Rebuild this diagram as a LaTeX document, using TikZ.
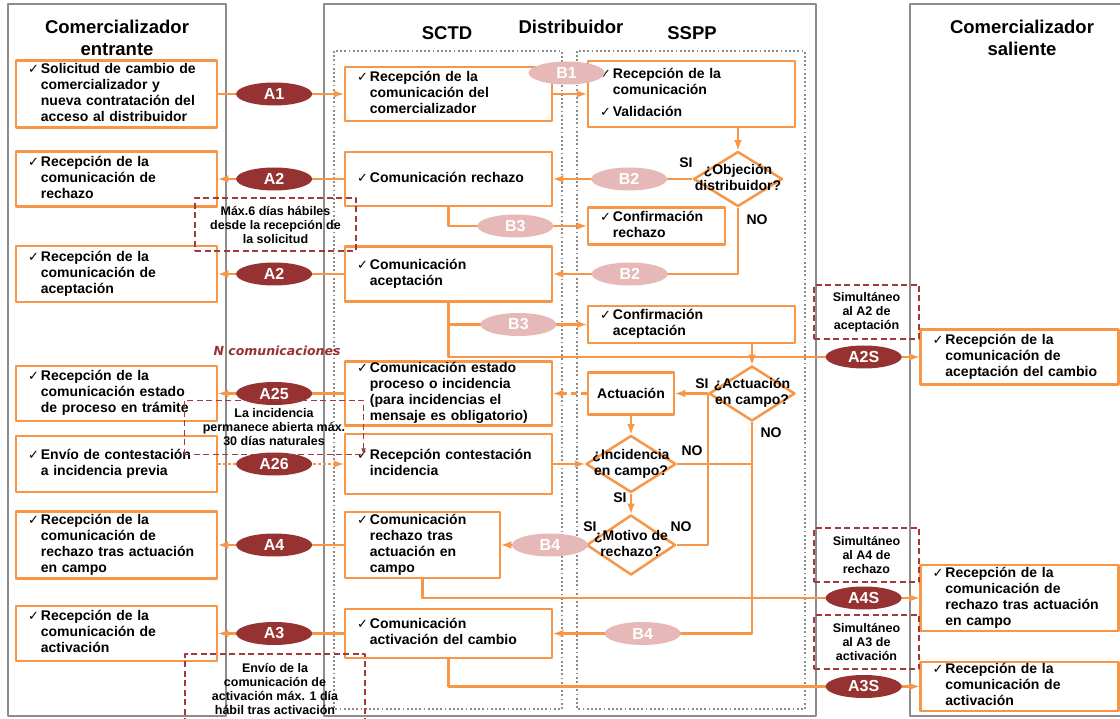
\documentclass[tikz,border=0pt]{standalone}
\usepackage{fontspec}
\setmainfont{Liberation Sans}
\newfontfamily\chkfont{DejaVu Sans}
\usetikzlibrary{shapes.geometric,positioning}
\definecolor{flowor}{HTML}{F79646}
\definecolor{ared}{HTML}{963232}
\definecolor{bpink}{HTML}{E6B8B7}
\definecolor{lanegray}{HTML}{8C8C8C}
\definecolor{notered}{HTML}{A03A3C}
\newcommand{\okmark}{{\chkfont\mdseries\fontsize{13}{13}\selectfont ✓}}
\newcommand{\chklist}[1]{\begin{tabular}{@{}l@{\hspace{2pt}}l@{}}\okmark & #1\end{tabular}}
\newcommand{\dtext}[1]{\makebox[0pt]{\smash{\raisebox{-3.5pt}{\begin{tabular}{@{}c@{}}#1\end{tabular}}}}}
\begin{document}
\begin{tikzpicture}[x=1pt, y=-1pt, >=latex, line join=round]
        \tikzstyle{lane} = [draw=lanegray, line width=2.6pt]
        \tikzstyle{frame} = [draw=lanegray, line width=1.8pt, dash pattern=on 1.8pt off 2.4pt]
        \tikzstyle{title} = [align=center, inner sep=0pt, font=\bfseries\fontsize{18.5}{22}\selectfont]
        \tikzstyle{block} = [draw=flowor, line width=2.5pt, fill=white, rectangle, inner xsep=12pt, inner ysep=0pt, align=left, font=\bfseries\fontsize{14}{16}\selectfont]
        \tikzstyle{lbox} = [block, text width=177pt]
        \tikzstyle{sbox} = [block, text width=183pt]
        \tikzstyle{rbox} = [block, text width=174pt]
        \tikzstyle{decision} = [diamond, draw=flowor, line width=2.5pt, fill=white, inner sep=0pt, font=\bfseries\fontsize{14}{16}\selectfont]
        \tikzstyle{flow} = [draw=flowor, line width=2.4pt]
        \tikzstyle{aev} = [ellipse, fill=ared, text=white, inner sep=0pt, minimum width=76pt, minimum height=23pt, pos=.445, font=\bfseries\fontsize{16}{16}\selectfont]
        \tikzstyle{bev} = [aev, fill=bpink]
        \tikzstyle{note} = [draw=notered, line width=1.1pt, dash pattern=on 6pt off 3.5pt, align=center, inner sep=0pt, font=\bfseries\fontsize{12.5}{14}\selectfont]
        \tikzstyle{notel} = [draw=notered, line width=1.1pt, dash pattern=on 6pt off 3.5pt]
        \tikzstyle{ans} = [inner sep=0pt, font=\bfseries\fontsize{14}{16}\selectfont]

        \useasboundingbox (0,0) rectangle (1120,719);

        \draw [lane] (8,4) rectangle (226,716);
        \draw [lane] (324,4) rectangle (816,716);
        \draw [lane] (1124,4) -- (910,4) -- (910,716) -- (1124,716);
        \draw [frame] (334,51) rectangle (562,709);
        \draw [frame] (577,51) rectangle (805,709);

        \node [title] (entr) at (117,38) {Comercializador\\entrante};
        \node [title] (sctd) at (447,33) {SCTD};
        \node [title] (dist) at (571,27) {Distribuidor};
        \node [title] (sspp) at (692,33) {SSPP};
        \node [title] (sal) at (1022,38) {Comercializador\\saliente};

        \node [lbox, minimum height=67pt] (l1) at (116.5,94) {\chklist{Solicitud de cambio de\\ & comercializador y\\ & nueva contratación del\\ & acceso al distribuidor}};
        \node [lbox, minimum height=55pt] (l2) at (116.5,179) {\chklist{Recepción de la\\ & comunicación de\\ & rechazo}};
        \node [lbox, minimum height=56pt] (l3) at (116.5,274) {\chklist{Recepción de la\\ & comunicación de\\ & aceptación}};
        \node [lbox, minimum height=55pt] (l4) at (116.5,393.5) {\chklist{Recepción de la\\ & comunicación estado\\ & de proceso en trámite}};
        \node [lbox, minimum height=56pt] (l5) at (116.5,464) {\chklist{Envío de contestación\\ & a incidencia previa}};
        \node [lbox, minimum height=67pt] (l6) at (116.5,545) {\chklist{Recepción de la\\ & comunicación de\\ & rechazo tras actuación\\ & en campo}};
        \node [lbox, minimum height=55pt] (l7) at (116.5,633.5) {\chklist{Recepción de la\\ & comunicación de\\ & activación}};

        \node [sbox, minimum height=54pt] (s1) at (448.5,94) {\chklist{Recepción de la\\ & comunicación del\\ & comercializador}};
        \node [sbox, minimum height=54pt] (s2) at (448.5,179) {\chklist{Comunicación rechazo}};
        \node [sbox, minimum height=55pt] (s3) at (448.5,274) {\chklist{Comunicación\\ & aceptación}};
        \node [sbox, minimum height=61pt] (s4) at (448.5,393.5) {\chklist{Comunicación estado\\ & proceso o incidencia\\ & (para incidencias el\\ & mensaje es obligatorio)}};
        \node [sbox, minimum height=60pt] (s5) at (448.5,464) {\chklist{Recepción contestación\\ & incidencia}};
        \node [block, text width=131pt, minimum height=66pt] (s6) at (422.5,545) {\chklist{Comunicación\\ & rechazo tras\\ & actuación en\\ & campo}};
        \node [sbox, minimum height=49pt] (s7) at (448.5,633.5) {\chklist{Comunicación\\ & activación del cambio}};

        \node [sbox, minimum height=66pt] (p1) at (691.5,94) {\chklist{Recepción de la\\ & comunicación\\[6pt] \okmark & Validación}};
        \node [block, text width=113pt, minimum height=37pt] (p2) at (656.5,226) {\chklist{Confirmación\\ & rechazo}};
        \node [sbox, minimum height=37pt] (p3) at (691.5,324.5) {\chklist{Confirmación\\ & aceptación}};
        \node [block, align=center, inner xsep=0pt, minimum width=86pt, minimum height=42pt] (act) at (631,393.5) {Actuación};

        \node [decision, minimum width=89pt, minimum height=55pt] (d1) at (738,179) {\dtext{¿Objeción\\distribuidor?}};
        \node [decision, minimum width=86pt, minimum height=55pt] (d2) at (752,393.5) {\dtext{¿Actuación\\en campo?}};
        \node [decision, minimum width=90pt, minimum height=57pt] (d3) at (631,464) {\dtext{¿Incidencia\\en campo?}};
        \node [decision, minimum width=89pt, minimum height=60pt] (d4) at (631,545) {\dtext{¿Motivo de\\rechazo?}};

        \node [rbox, minimum height=55pt] (r1) at (1019.5,357) {\chklist{Recepción de la\\ & comunicación de\\ & aceptación del cambio}};
        \node [rbox, minimum height=66pt] (r2) at (1019.5,598) {\chklist{Recepción de la\\ & comunicación de\\ & rechazo tras actuación\\ & en campo}};
        \node [rbox, minimum height=49pt] (r3) at (1019.5,686.5) {\chklist{Recepción de la\\ & comunicación de\\ & activación}};

        \draw [flow, ->] (l1) -- node[aev] (a1) {A1} (s1);
        \draw [flow, ->] (s1) -- node[bev, pos=.4, yshift=21pt] (b1) {B1} (p1);
        \draw [flow, ->] (p1.south -| d1.north) -- (d1.north);
        \draw [flow, ->] (d1) -- node[bev, pos=.454] (b2a) {B2} (s2);
        \draw [flow, ->] (d1.south) |- node[bev, pos=.793] (b2b) {B2} (s3);
        \draw [flow, <-] (l2) -- node[aev] (a2a) {A2} (s2);
        \draw [flow, <-] (l3) -- node[aev] (a2b) {A2} (s3);
        \draw [flow, ->] (s2.south) |- node[bev, pos=.742] (b3a) {B3} (p2);
        \draw [flow, ->] (s3.south) |- node[aev, pos=.941] (a2s) {A2S} (r1);
        \draw [flow, ->] (s3.south) |- node[bev, pos=.753] (b3b) {B3} (p3);
        \draw [flow, ->] (p3.south -| d2.north) -- (d2.north);
        \draw [flow, ->] (d2) -- (act);
        \draw [flow, ->, dash pattern=on 6pt off 4pt] (act) -- (s4);
        \draw [flow, <-] (l4) -- node[aev] (a25) {A25} (s4);
        \draw [flow, ->, dash pattern=on 2.5pt off 2.5pt] (l5) -- node[aev] (a26) {A26} (s5);
        \draw [flow, ->] (s5) -- (d3);
        \draw [flow, ->] (act) -- (d3);
        \draw [flow] (d3.east) -- (d3.east -| d2.south);
        \draw [flow, ->] (d2.south) |- node[bev, pos=.775] (b4b) {B4} (s7);
        \draw [flow, ->] (d3) -- (d4);
        \draw [flow, ->] (d4) -- node[bev, pos=.42] (b4a) {B4} (s6);
        \draw [flow] (d4.east) -| (d2.west);
        \draw [flow, <-] (l6) -- node[aev] (a4) {A4} (s6);
        \draw [flow, ->] (s6.south) |- node[aev, pos=.944] (a4s) {A4S} (r2);
        \draw [flow, <-] (l7) -- node[aev] (a3) {A3} (s7);
        \draw [flow, ->] (s7.south) |- node[aev, pos=.941] (a3s) {A3S} (r3);

        \node [ans] (si1) at (686,163) {SI};
        \node [ans] (no1) at (757,220) {NO};
        \node [ans] (si2) at (702,384) {SI};
        \node [ans] (no2) at (771,433) {NO};
        \node [ans] (no3) at (692,451) {NO};
        \node [ans] (si3) at (620,498) {SI};
        \node [ans] (si4) at (590,527) {SI};
        \node [ans] (no4) at (681,527) {NO};

        \node [note, minimum width=161pt, minimum height=53pt] (n1) at (275.5,224.5) {Máx.6 días hábiles\\desde la recepción de\\la solicitud};
        \node [note, draw=none, minimum width=178pt, minimum height=53pt] (n2) at (274,427.5) {La incidencia\\permanece abierta máx.\\30 días naturales};
        \draw [notel, ->] (n2.south west) |- (n2.north east) -- (n2.south east);
        \draw [notel] (n2.south west) -- (n2.south east);
        \node [note, minimum width=180pt, minimum height=70pt] (n3) at (275,689) {Envío de la\\comunicación de\\activación máx. 1 día\\hábil tras activación};
        \node [note, minimum width=105pt, minimum height=54pt] (n4) at (866.5,312) {Simultáneo\\al A2 de\\aceptación};
        \node [note, minimum width=105pt, minimum height=54pt] (n5) at (866.5,555) {Simultáneo\\al A4 de\\rechazo};
        \node [note, minimum width=105pt, minimum height=54pt] (n6) at (866.5,642) {Simultáneo\\al A3 de\\activación};
        \node [text=ared, inner sep=0pt, font=\chkfont\bfseries\itshape\fontsize{12.5}{14}\selectfont] (ncom) at (277,351) {N comunicaciones};
\end{tikzpicture}
\end{document}
